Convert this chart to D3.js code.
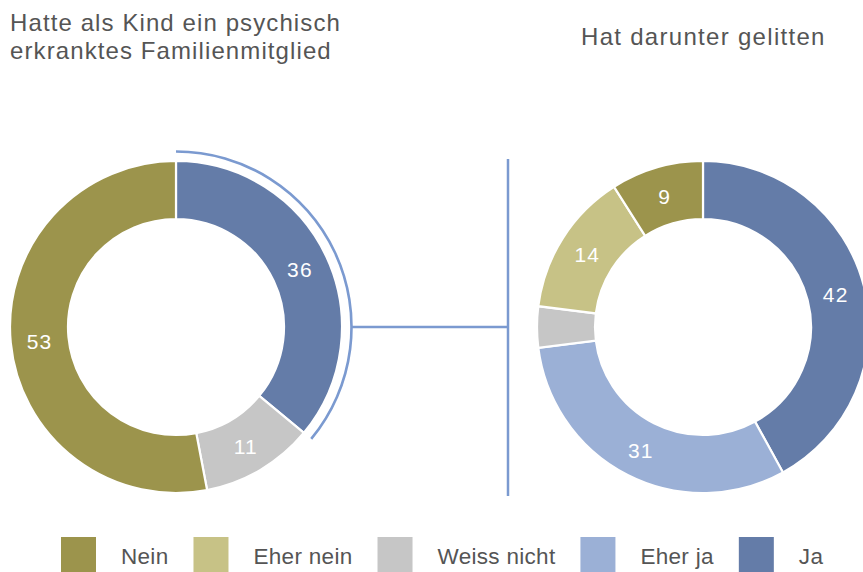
<!DOCTYPE html>
<html>
<head>
<meta charset="utf-8">
<script src="https://cdn.jsdelivr.net/npm/d3@7"></script>
<style>
  html, body { margin: 0; padding: 0; background: #fff; }
  svg { display: block; }
  text { font-family: "Liberation Sans", Arial, sans-serif; }
</style>
</head>
<body>
<svg id="chart" width="863" height="572"></svg>
<script>
// ---- data ----
const categories = ["Ja", "Eher ja", "Weiss nicht", "Eher nein", "Nein"];
const colors = ["#647ca8", "#9bb0d6", "#c6c6c6", "#c7c286", "#9c944c"];
const leftValues = [36, 0, 11, 0, 53];
const rightValues = [42, 31, 4, 14, 9];
const legendOrder = ["Nein", "Eher nein", "Weiss nicht", "Eher ja", "Ja"];
const leftTitle = ["Hatte als Kind ein psychisch", "erkranktes Familienmitglied"];
const rightTitle = "Hat darunter gelitten";

const svg = d3.select("#chart");
const color = d3.scaleOrdinal().domain(categories).range(colors);

const rInner = 108, rOuter = 166;
const cy = 327;
const leftCx = 176, rightCx = 703;

const pie = d3.pie().sort(null).value(d => d.value);
const arc = d3.arc().innerRadius(rInner).outerRadius(rOuter);
const labelArc = d3.arc().innerRadius((rInner + rOuter) / 2).outerRadius((rInner + rOuter) / 2);

function donut(cx, values) {
  const data = categories.map((c, i) => ({ cat: c, value: values[i] }));
  const arcs = pie(data);
  const g = svg.append("g").attr("transform", `translate(${cx},${cy})`);
  g.selectAll("path.slice")
    .data(arcs.filter(a => a.data.value > 0))
    .join("path")
    .attr("class", "slice")
    .attr("d", arc)
    .attr("fill", d => color(d.data.cat))
    .attr("stroke", "#fff")
    .attr("stroke-width", 2.2)
    .attr("stroke-linejoin", "miter");
  g.selectAll("text.lbl")
    .data(arcs.filter(a => a.data.value >= 5))
    .join("text")
    .attr("class", "lbl")
    .attr("transform", d => `translate(${labelArc.centroid(d)})`)
    .attr("text-anchor", "middle")
    .attr("dy", "0.42em")
    .attr("fill", "#fff")
    .attr("font-size", 21)
    .attr("letter-spacing", 1.2)
    .text(d => d.data.value);
  return { g, arcs };
}

const left = donut(leftCx, leftValues);
donut(rightCx, rightValues);

// highlight arc around "Ja" slice of left donut
const jaArc = left.arcs[0];
const hlColor = "#7b9ad0";
const hlR = 175.5;
left.g.append("path")
  .attr("d", d3.arc().innerRadius(hlR - 1.3).outerRadius(hlR + 1.3)
    .startAngle(jaArc.startAngle).endAngle(jaArc.endAngle)())
  .attr("fill", hlColor);

// connector
const lineX = 508;
svg.append("line")
  .attr("x1", leftCx + hlR).attr("x2", lineX)
  .attr("y1", cy).attr("y2", cy)
  .attr("stroke", hlColor).attr("stroke-width", 2.5);
svg.append("line")
  .attr("x1", lineX).attr("x2", lineX)
  .attr("y1", 159).attr("y2", 496)
  .attr("stroke", hlColor).attr("stroke-width", 2.5);

// titles
const t = svg.append("text")
  .attr("x", 10).attr("y", 31)
  .attr("fill", "#555").attr("font-size", 24)
  .attr("letter-spacing", 1.1);
leftTitle.forEach((line, i) => {
  t.append("tspan").attr("x", 10).attr("dy", i === 0 ? 0 : 28).text(line);
});
svg.append("text")
  .attr("x", 581).attr("y", 44.5)
  .attr("fill", "#555").attr("font-size", 24)
  .attr("letter-spacing", 1.3)
  .text(rightTitle);

// legend
const lg = svg.append("g");
let x = 61;
const sq = 35, gap = 25;
legendOrder.forEach(cat => {
  lg.append("rect")
    .attr("x", x).attr("y", 537).attr("width", sq).attr("height", sq)
    .attr("fill", color(cat));
  x += sq + gap;
  const tx = lg.append("text")
    .attr("x", x).attr("y", 564)
    .attr("fill", "#555").attr("font-size", 22.5)
    .attr("letter-spacing", 0.3)
    .text(cat);
  x += tx.node().getComputedTextLength() + gap;
});
</script>
</body>
</html>
